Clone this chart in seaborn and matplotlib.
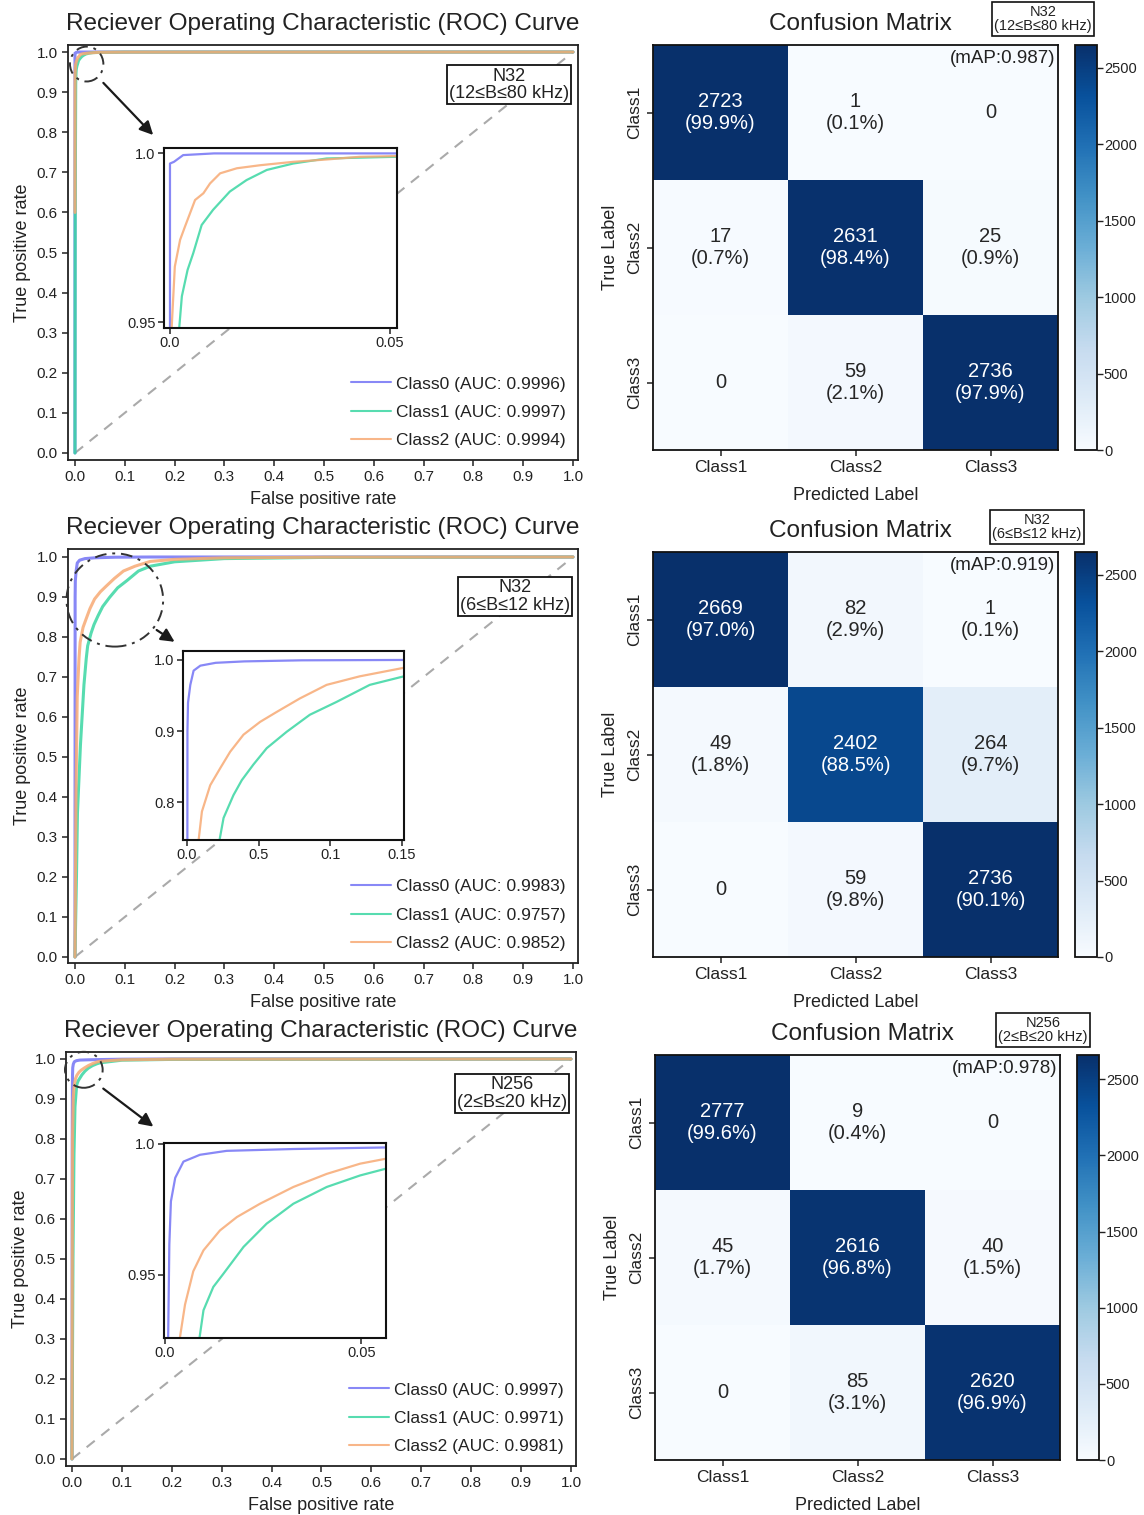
import numpy as np
import matplotlib
matplotlib.use("Agg")
import matplotlib.pyplot as plt
import seaborn as sns
from matplotlib.patches import Ellipse

# ---------------- data ----------------
class_names = ["Class0", "Class1", "Class2"]
cm_labels = ["Class1", "Class2", "Class3"]
diag = [0.0, 1.0]

# Panel 1: N32 (12<=B<=80 kHz)
p1_tag = "N32\n(12≤B≤80 kHz)"
p1_auc = [0.9996, 0.9997, 0.9994]
p1_c0_fpr = [0.0, 0.0, 0.0009, 0.003, 0.01, 1.0]
p1_c0_tpr = [0.0, 0.997, 0.9975, 0.9995, 1.0, 1.0]
p1_c1_fpr = [0.0, 0.0005, 0.0015, 0.0021, 0.0027, 0.004, 0.0053, 0.0072, 0.0098, 0.0136, 0.0174, 0.022, 0.028, 0.0356, 0.0515, 0.1, 1.0]
p1_c1_tpr = [0.0, 0.6, 0.92, 0.9483, 0.9577, 0.9655, 0.9705, 0.9788, 0.9833, 0.9887, 0.9921, 0.9951, 0.997, 0.9985, 0.999, 0.9998, 1.0]
p1_c2_fpr = [0.0, 0.0002, 0.0004, 0.0011, 0.0023, 0.0034, 0.0057, 0.0076, 0.0091, 0.0114, 0.0152, 0.0205, 0.028, 0.0356, 0.0432, 0.0515, 0.1, 1.0]
p1_c2_tpr = [0.60, 0.93, 0.9488, 0.9665, 0.9744, 0.9783, 0.9862, 0.9882, 0.9911, 0.9941, 0.9956, 0.9965, 0.9975, 0.9982, 0.999, 0.9992, 0.9998, 1.0]
p1_counts = [[2723, 1, 0], [17, 2631, 25], [0, 59, 2736]]
p1_pcts = [[99.9, 0.1, 0.0], [0.7, 98.4, 0.9], [0.0, 2.1, 97.9]]
p1_map = "(mAP:0.987)"

# Panel 2: N32 (6<=B<=12 kHz)
p2_tag = "N32\n(6≤B≤12 kHz)"
p2_auc = [0.9983, 0.9757, 0.9852]
p2_c0_fpr = [0.0, 0.0003, 0.0007, 0.0023, 0.0046, 0.0093, 0.02, 0.04, 0.08, 0.15, 1.0]
p2_c0_tpr = [0.0, 0.90, 0.94, 0.965, 0.985, 0.992, 0.996, 0.998, 0.9995, 1.0, 1.0]
p2_c1_fpr = [0.0, 0.003, 0.005, 0.011, 0.018, 0.0227, 0.0255, 0.0324, 0.0382, 0.0463, 0.0556, 0.0695, 0.0857, 0.1043, 0.1275, 0.1513, 0.2, 0.3, 0.5, 1.0]
p2_c1_tpr = [0.0, 0.2, 0.36, 0.53, 0.68, 0.747, 0.778, 0.81, 0.831, 0.853, 0.876, 0.899, 0.923, 0.941, 0.965, 0.977, 0.988, 0.996, 0.999, 1.0]
p2_c2_fpr = [0.0, 0.002, 0.0045, 0.0081, 0.0104, 0.0162, 0.0232, 0.0301, 0.0394, 0.051, 0.0626, 0.0788, 0.0974, 0.1205, 0.1513, 0.2, 0.3, 0.5, 1.0]
p2_c2_tpr = [0.0, 0.4, 0.65, 0.747, 0.787, 0.824, 0.848, 0.871, 0.895, 0.913, 0.927, 0.946, 0.965, 0.977, 0.989, 0.994, 0.998, 0.9995, 1.0]
p2_counts = [[2669, 82, 1], [49, 2402, 264], [0, 59, 2736]]
p2_pcts = [[97.0, 2.9, 0.1], [1.8, 88.5, 9.7], [0.0, 9.8, 90.1]]
p2_map = "(mAP:0.919)"

# Panel 3: N256 (2<=B<=20 kHz)
p3_tag = "N256\n(2≤B≤20 kHz)"
p3_auc = [0.9997, 0.9971, 0.9981]
p3_c0_fpr = [0.0, 0.0005, 0.0008, 0.0011, 0.0015, 0.0026, 0.0047, 0.0089, 0.0157, 0.0327, 0.0563, 0.1, 0.2, 1.0]
p3_c0_tpr = [0.0, 0.8, 0.926, 0.9615, 0.978, 0.987, 0.9932, 0.9958, 0.9973, 0.998, 0.9986, 0.9995, 1.0, 1.0]
p3_c1_fpr = [0.0, 0.002, 0.004, 0.006, 0.0088, 0.0098, 0.0123, 0.0149, 0.02, 0.0259, 0.0327, 0.0412, 0.0497, 0.0563, 0.1, 0.2, 1.0]
p3_c1_tpr = [0.0, 0.5, 0.76, 0.88, 0.926, 0.9364, 0.9453, 0.9504, 0.9606, 0.9695, 0.9771, 0.9835, 0.9879, 0.9905, 0.997, 0.999, 1.0]
p3_c2_fpr = [0.0, 0.001, 0.0025, 0.0038, 0.0051, 0.0072, 0.0098, 0.014, 0.0183, 0.0242, 0.0327, 0.0412, 0.0497, 0.0563, 0.1, 0.2, 1.0]
p3_c2_tpr = [0.0, 0.8, 0.9, 0.926, 0.9386, 0.9513, 0.9593, 0.9669, 0.972, 0.9771, 0.9835, 0.9885, 0.9924, 0.9943, 0.998, 0.9995, 1.0]
p3_counts = [[2777, 9, 0], [45, 2616, 40], [0, 85, 2620]]
p3_pcts = [[99.6, 0.4, 0.0], [1.7, 96.8, 1.5], [0.0, 3.1, 96.9]]
p3_map = "(mAP:0.978)"

main_ticks = [0.0, 0.1, 0.2, 0.3, 0.4, 0.5, 0.6, 0.7, 0.8, 0.9, 1.0]
main_ticklabels = ["0.0", "0.1", "0.2", "0.3", "0.4", "0.5", "0.6", "0.7", "0.8", "0.9", "1.0"]
cbar_ticks = [0, 500, 1000, 1500, 2000, 2500]

# ---------------- style ----------------
sns.set_theme(style="ticks")
plt.rcParams['font.family'] = ['Liberation Sans', 'DejaVu Sans']
plt.rcParams['axes.edgecolor'] = '#222222'
plt.rcParams['xtick.color'] = '#222222'
plt.rcParams['ytick.color'] = '#222222'
plt.rcParams['text.color'] = '#222222'
plt.rcParams['axes.labelcolor'] = '#222222'

line_colors = ['#7373f5', '#3ad6a2', '#f7aa74']

W, H = 1144, 1515
fig = plt.figure(figsize=(W / 100, H / 100), dpi=100)


def rect(x0, y0, x1, y1):
    return [x0 / W, 1 - y1 / H, (x1 - x0) / W, (y1 - y0) / H]


def draw_roc(ax_box, curves, aucs, xlim, ylim, in_box, in_xlim, in_ylim,
             in_xt, in_xtl, in_yt, in_ytl, ell, arrow, tag, tag_xy):
    ax = fig.add_axes(rect(*ax_box))
    sns.lineplot(x=diag, y=diag, ax=ax, color='#aaaaaa', lw=1.5,
                 linestyle=(0, (5, 4)), label='_nolegend_')
    for (fpr, tpr), name, auc, col in zip(curves, class_names, aucs, line_colors):
        sns.lineplot(x=fpr, y=tpr, ax=ax, color=col, lw=2.2, alpha=0.85,
                     estimator=None, sort=False,
                     label=f"{name} (AUC: {auc:.4f})")
    ax.set_xlim(*xlim)
    ax.set_ylim(*ylim)
    ax.set_xticks(main_ticks)
    ax.set_xticklabels(main_ticklabels)
    ax.set_yticks(main_ticks)
    ax.set_yticklabels(main_ticklabels)
    ax.tick_params(labelsize=11, length=4, width=1.1)
    for s in ax.spines.values():
        s.set_linewidth(1.3)
    ax.set_xlabel("False positive rate", fontsize=13, labelpad=5)
    ax.set_ylabel("True positive rate", fontsize=13, labelpad=4)
    ax.set_title("Reciever Operating Characteristic (ROC) Curve", fontsize=17.6, pad=11)
    h, l = ax.get_legend_handles_labels()
    keep = [(hh, ll) for hh, ll in zip(h, l) if ll.startswith("Class")]
    leg = ax.legend([k[0] for k in keep], [k[1] for k in keep], loc='lower right',
                    frameon=False, fontsize=12.5, handlelength=2.3,
                    borderaxespad=0.3, labelspacing=0.75, handletextpad=0.3)
    for ln in leg.get_lines():
        ln.set_linewidth(1.5)
    ax.text(tag_xy[0], tag_xy[1], tag, transform=ax.transAxes, ha='center',
            va='center', fontsize=13, linespacing=1.05,
            bbox=dict(boxstyle='square,pad=0.12', fc='white', ec='#111111', lw=1.3))
    ax.add_patch(Ellipse(ell[0], ell[1], ell[2], fill=False, ec='#333333',
                         lw=1.4, ls=(0, (6, 3, 1.5, 3)), clip_on=False, zorder=5))
    ax.annotate('', xy=arrow[1], xytext=arrow[0],
                arrowprops=dict(arrowstyle='-|>', color='#1a1a1a', lw=1.6,
                                mutation_scale=20, shrinkA=0, shrinkB=0))

    axi = fig.add_axes(rect(*in_box))
    axi.set_facecolor('white')
    for (fpr, tpr), col in zip(curves, line_colors):
        sns.lineplot(x=fpr, y=tpr, ax=axi, color=col, lw=1.6, alpha=0.85,
                     estimator=None, sort=False)
    axi.set_xlim(*in_xlim)
    axi.set_ylim(*in_ylim)
    axi.set_xticks(in_xt)
    axi.set_xticklabels(in_xtl)
    axi.set_yticks(in_yt)
    axi.set_yticklabels(in_ytl)
    axi.tick_params(labelsize=10.5, length=4, width=1.1, pad=2)
    axi.set_xlabel("")
    axi.set_ylabel("")
    for s in axi.spines.values():
        s.set_linewidth(1.5)
        s.set_color('#111111')
    if axi.get_legend() is not None:
        axi.get_legend().remove()
    return ax


def draw_cm(ax_box, cax_box, counts, pcts, vmax, map_text, tag, tag_center):
    ax = fig.add_axes(rect(*ax_box))
    cax = fig.add_axes(rect(*cax_box))
    annot = []
    for crow, prow in zip(counts, pcts):
        annot.append([("0" if c == 0 else f"{c}\n({p:.1f}%)") for c, p in zip(crow, prow)])
    sns.heatmap(np.array(counts), annot=np.array(annot), fmt='', cmap='Blues',
                vmin=0, vmax=vmax, ax=ax, cbar_ax=cax, linewidths=0,
                xticklabels=cm_labels, yticklabels=cm_labels,
                annot_kws={'fontsize': 14.5, 'linespacing': 1.15})
    for s in ax.spines.values():
        s.set_visible(True)
        s.set_linewidth(1.3)
        s.set_color('#111111')
    ax.tick_params(left=True, bottom=True, length=4, width=1.1, labelsize=12.5)
    ax.set_yticklabels(cm_labels, rotation=90, va='center')
    ax.set_xticklabels(cm_labels, rotation=0)
    ax.set_xlabel("Predicted Label", fontsize=13, labelpad=8)
    ax.set_ylabel("True Label", fontsize=13, labelpad=6)
    ax.set_title("Confusion Matrix", fontsize=17.6, pad=11, x=0.512)
    ax.text(0.993, 0.967, map_text, transform=ax.transAxes, ha='right',
            va='center', fontsize=13.5)
    cbar = ax.collections[0].colorbar
    cbar.set_ticks(cbar_ticks)
    cbar.outline.set_visible(True)
    cbar.outline.set_linewidth(1.3)
    cbar.outline.set_edgecolor('#111111')
    cax.tick_params(labelsize=10.5, length=4, width=1.0, pad=1)
    fig.text(tag_center[0] / W, 1 - tag_center[1] / H, tag, ha='center',
             va='center', fontsize=10.5, linespacing=1.05,
             bbox=dict(boxstyle='square,pad=0.18', fc='white', ec='#111111', lw=1.2))


# ---------------- row 1 ----------------
draw_roc((68, 45, 578, 460),
         [(p1_c0_fpr, p1_c0_tpr), (p1_c1_fpr, p1_c1_tpr), (p1_c2_fpr, p1_c2_tpr)],
         p1_auc, (-0.014, 1.01), (-0.0175, 1.0175),
         (164, 148, 397, 328), (-0.00136, 0.0516), (0.9483, 1.0016),
         [0.0, 0.05], ["0.0", "0.05"], [0.95, 1.0], ["0.95", "1.0"],
         ((0.0235, 0.970), 0.067, 0.087),
         ((0.057, 0.923), (0.157, 0.793)),
         p1_tag, (0.865, 0.904))
draw_cm((653, 45, 1058, 450), (1075, 45, 1097, 450), p1_counts, p1_pcts, 2650,
        p1_map, p1_tag, (1043, 19))

# ---------------- row 2 ----------------
draw_roc((68, 549, 578, 963),
         [(p2_c0_fpr, p2_c0_tpr), (p2_c1_fpr, p2_c1_tpr), (p2_c2_fpr, p2_c2_tpr)],
         p2_auc, (-0.014, 1.01), (-0.015, 1.02),
         (183, 651, 404, 840), (-0.0028, 0.1514), (0.747, 1.0126),
         [0.0, 0.05, 0.1, 0.15], ["0.0", "0.5", "0.1", "0.15"],
         [0.8, 0.9, 1.0], ["0.8", "0.9", "1.0"],
         ((0.08, 0.8925), 0.194, 0.233),
         ((0.164, 0.8175), (0.20, 0.788)),
         p2_tag, (0.876, 0.886))
draw_cm((653, 552, 1058, 957), (1075, 552, 1097, 957), p2_counts, p2_pcts, 2650,
        p2_map, p2_tag, (1037, 527))

# ---------------- row 3 ----------------
draw_roc((66, 1052, 576, 1466),
         [(p3_c0_fpr, p3_c0_tpr), (p3_c1_fpr, p3_c1_tpr), (p3_c2_fpr, p3_c2_tpr)],
         p3_auc, (-0.012, 1.01), (-0.0175, 1.0175),
         (164, 1143, 386, 1338), (-0.00026, 0.0563), (0.9258, 1.0003),
         [0.0, 0.05], ["0.0", "0.05"], [0.95, 1.0], ["0.95", "1.0"],
         ((0.0237, 0.973), 0.0755, 0.09),
         ((0.0627, 0.926), (0.163, 0.831)),
         p3_tag, (0.875, 0.899))
draw_cm((655, 1055, 1060, 1460), (1077, 1055, 1099, 1460), p3_counts, p3_pcts, 2660,
        p3_map, p3_tag, (1043, 1030))

fig.savefig("out.png", dpi=100, facecolor='white')
